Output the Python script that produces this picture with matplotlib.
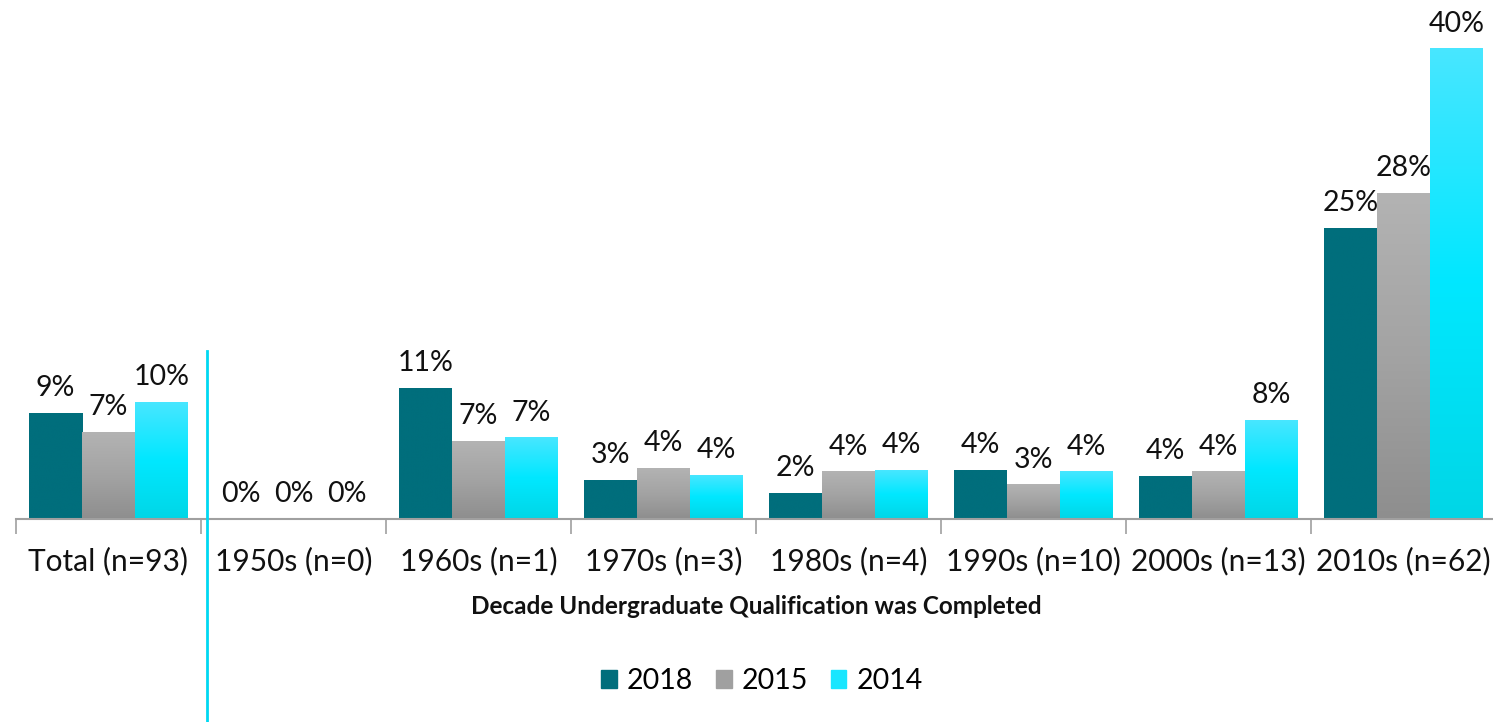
import numpy as np
import matplotlib.pyplot as plt
from matplotlib.colors import LinearSegmentedColormap

categories = ["Total (n=93)", "1950s (n=0)", "1960s (n=1)", "1970s (n=3)",
              "1980s (n=4)", "1990s (n=10)", "2000s (n=13)", "2010s (n=62)"]
series = ["2018", "2015", "2014"]
v2018 = [9.0, 0, 11.1, 3.3, 2.2, 4.1, 3.6, 24.7]
v2015 = [7.4, 0, 6.6, 4.3, 4.0, 2.9, 4.0, 27.7]
v2014 = [9.9, 0, 6.9, 3.7, 4.1, 4.0, 8.4, 40.0]
l2018 = ["9%", "0%", "11%", "3%", "2%", "4%", "4%", "25%"]
l2015 = ["7%", "0%", "7%", "4%", "4%", "3%", "4%", "28%"]
l2014 = ["10%", "0%", "7%", "4%", "4%", "4%", "8%", "40%"]

plt.rcParams['font.family'] = ['Lato', 'DejaVu Sans']

# colour ramps, bottom -> top
cmaps = [
    LinearSegmentedColormap.from_list("t", ["#006E7C", "#006E7C"]),
    LinearSegmentedColormap.from_list("g", ["#8E8E8E", "#A3A3A3", "#B3B3B3"]),
    LinearSegmentedColormap.from_list("c", ["#00D6E6", "#00E8FF", "#48E6FF"]),
]
legend_cols = ["#006E7C", "#A0A0A0", "#18E6FF"]

fig = plt.figure(figsize=(14.93, 7.22), dpi=100)
ax = fig.add_axes([16 / 1493, 203 / 722, 1480 / 1493, 519 / 722])

x = np.arange(len(categories))
w = 53 / 185
grad = np.linspace(0, 1, 256).reshape(-1, 1)
for k, (vals, labs) in enumerate([(v2018, l2018), (v2015, l2015), (v2014, l2014)]):
    for i in range(len(categories)):
        x0 = x[i] + (k - 1.5) * w
        h = vals[i]
        if h > 0:
            ax.imshow(grad, cmap=cmaps[k], origin='lower', aspect='auto',
                      extent=(x0, x0 + w, 0, h), zorder=2, interpolation='bilinear')
        ax.text(x0 + w / 2, h + 1.05, labs[i], ha='center', va='bottom',
                fontsize=20.5, color='#111111', zorder=3)

ax.set_xlim(-0.5, len(categories) - 0.5)
ax.set_ylim(0, 44.17)
for s in ['top', 'right', 'left']:
    ax.spines[s].set_visible(False)
ax.spines['bottom'].set_color('#A0A0A0')
ax.spines['bottom'].set_linewidth(1.5)
ax.set_yticks([])
ax.set_xticks(np.arange(-0.5, len(categories), 1.0))
ax.set_xticklabels([])
ax.tick_params(axis='x', length=11, color='#A0A0A0', width=1.2)
for i, c in enumerate(categories):
    ax.text(x[i], -2.4, c, ha='center', va='top', fontsize=21.5, color='#111111')

fig.text(756 / 1493, 1 - 606 / 722, "Decade Undergraduate Qualification was Completed",
         ha='center', va='center', fontsize=17.5, fontweight='bold', color='#111111')

# separator line after Total
fig.add_artist(plt.Line2D([207.5 / 1493, 207.5 / 1493], [0, 1 - 351 / 722],
                          color='#00D8F2', lw=2))

# legend
handles = [plt.Rectangle((0, 0), 1, 1, color=c) for c in legend_cols]
fig.legend(handles, series, loc='center', bbox_to_anchor=(762 / 1493, 1 - 681 / 722),
           ncol=3, frameon=False, fontsize=20.5, handlelength=0.55, handleheight=0.55,
           handletextpad=0.35, columnspacing=0.8)

fig.savefig("out.png", dpi=100)
